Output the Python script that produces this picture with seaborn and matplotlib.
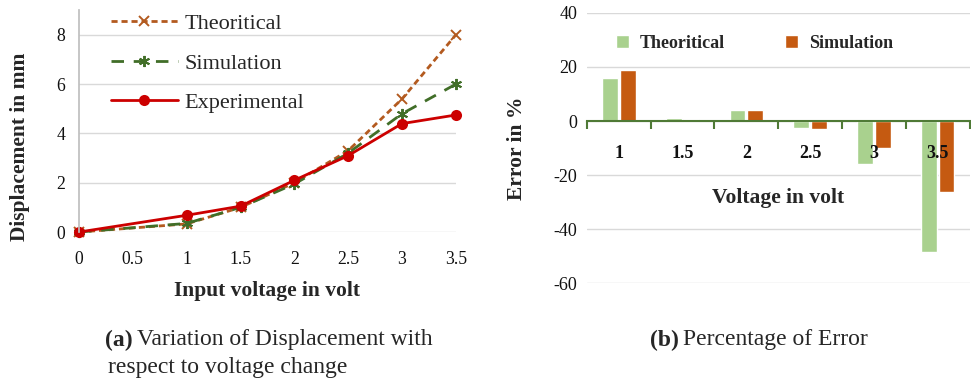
import numpy as np
import pandas as pd
import matplotlib
matplotlib.use("Agg")
import matplotlib.pyplot as plt
import seaborn as sns

# -----------------------------
# data
# -----------------------------
voltage = [0, 1, 1.5, 2, 2.5, 3, 3.5]
disp_theory = [0, 0.33, 1.0, 2.0, 3.3, 5.4, 8.0]
disp_sim = [0, 0.35, 1.0, 1.95, 3.2, 4.8, 6.0]
disp_exp = [0, 0.68, 1.05, 2.1, 3.1, 4.4, 4.75]

err_volts = ["1", "1.5", "2", "2.5", "3", "3.5"]
err_theory = [16.0, 1.0, 4.1, -2.5, -15.9, -48.5]
err_sim = [18.8, 0.6, 4.1, -2.8, -9.9, -26.3]

x_ticks = [0, 0.5, 1, 1.5, 2, 2.5, 3, 3.5]
x_tick_labels = ["0", "0.5", "1", "1.5", "2", "2.5", "3", "3.5"]

sns.set_theme(style="white")
plt.rcParams["font.family"] = ["Liberation Serif", "DejaVu Serif"]
plt.rcParams["axes.unicode_minus"] = False

fig = plt.figure(figsize=(9.71, 3.81), dpi=100)

# -----------------------------
# (a) displacement vs voltage
# -----------------------------
ax1 = fig.add_axes([0.0814, 0.391, 0.388, 0.582])

series = [
    ("Theoritical", disp_theory, "#b35a1f", "x", (2.2, 1.4), 7, 1.4),
    ("Simulation", disp_sim, "#416e28", (6, 2, 0), (4.5, 3.5), 8, 1.4),
    ("Experimental", disp_exp, "#cc0000", "o", None, 8, 0),
]
for name, vals, col, mk, dash, ms, mew in series:
    df = pd.DataFrame({"v": voltage, "d": vals})
    sns.lineplot(data=df, x="v", y="d", ax=ax1, color=col, marker=mk,
                 markersize=ms, markeredgewidth=mew, markeredgecolor=col,
                 linewidth=2.0, label=name, clip_on=False)
    if dash is not None:
        ax1.lines[-1].set_dashes(dash)

ax1.set_xlim(0, 3.5)
ax1.set_ylim(0, 9)
ax1.set_xticks(x_ticks)
ax1.set_xticklabels(x_tick_labels)
ax1.set_yticks([0, 2, 4, 6, 8])
ax1.grid(axis="y", color="#d9d9d9", linewidth=1)
ax1.set_axisbelow(True)
for s in ["top", "right", "bottom"]:
    ax1.spines[s].set_visible(False)
ax1.spines["left"].set_color("#bfbfbf")
ax1.tick_params(axis="both", length=0, labelsize=12.7, colors="#111111")
ax1.tick_params(axis="x", pad=14)
ax1.tick_params(axis="y", pad=10)
ax1.set_xlabel("Input voltage in volt", fontsize=15.5, fontweight="bold")
ax1.set_ylabel("Displacement in mm", fontsize=15.5, fontweight="bold")
ax1.xaxis.set_label_coords(0.5, -0.222)
ax1.yaxis.set_label_coords(-0.13, 0.383)
ax1.legend(loc="upper left", bbox_to_anchor=(0.085, 0.985), frameon=False,
           fontsize=16, handlelength=3.0, handletextpad=0.3, labelspacing=0.85,
           borderpad=0, borderaxespad=0)

# -----------------------------
# (b) percentage of error
# -----------------------------
ax2 = fig.add_axes([0.6045, 0.257, 0.394, 0.709])

err_df = pd.DataFrame({
    "Voltage": err_volts * 2,
    "Error": err_theory + err_sim,
    "Series": ["Theoritical"] * len(err_volts) + ["Simulation"] * len(err_volts),
})
sns.barplot(data=err_df, x="Voltage", y="Error", hue="Series", ax=ax2,
            order=err_volts, hue_order=["Theoritical", "Simulation"],
            palette={"Theoritical": "#a9d18e", "Simulation": "#c55a11"},
            width=0.55, gap=0.1, errorbar=None, saturation=1)

axis_col = "#4f7a36"
ax2.set_xlim(-0.5, 5.5)
ax2.set_ylim(-60, 40)
ax2.set_yticks([-60, -40, -20, 0, 20, 40])
ax2.grid(axis="y", color="#d9d9d9", linewidth=1)
ax2.set_axisbelow(True)
ax2.xaxis.set_zorder(5)
for s in ["top", "right", "left"]:
    ax2.spines[s].set_visible(False)
ax2.spines["bottom"].set_position(("data", 0))
ax2.spines["bottom"].set_color(axis_col)
ax2.spines["bottom"].set_linewidth(1.5)
ax2.spines["bottom"].set_zorder(5)
ax2.set_xticks(np.arange(-0.5, 6, 1), minor=True)
ax2.tick_params(axis="x", which="minor", length=6, width=1.5, color=axis_col,
                direction="out", bottom=True)
ax2.tick_params(axis="x", which="major", length=0, pad=17, labelsize=13,
                labelcolor="#111111")
for lab in ax2.get_xticklabels():
    lab.set_fontweight("bold")
ax2.tick_params(axis="y", length=0, pad=7, labelsize=13, colors="#111111")
ax2.set_xlabel("")
ax2.text(2.5, -28.5, "Voltage in volt", ha="center", va="center",
         fontsize=15.5, fontweight="bold")
ax2.set_ylabel("Error in %", fontsize=15.5, fontweight="bold")
ax2.yaxis.set_label_coords(-0.157, 0.5)
ax2.legend(loc="center left", bbox_to_anchor=(0.075, 0.887), ncol=2,
           frameon=False, prop={"size": 13, "weight": "bold"},
           handlelength=0.75, handleheight=0.75, handletextpad=0.6,
           columnspacing=3.3, borderpad=0, borderaxespad=0)

# -----------------------------
# captions
# -----------------------------
fig.text(105 / 971, 1 - 340 / 381, "(a)", fontsize=17, fontweight="bold", va="center")
fig.text(137 / 971, 1 - 340 / 381, "Variation of Displacement with", fontsize=17, va="center")
fig.text(108 / 971, 1 - 368 / 381, "respect to voltage change", fontsize=17, va="center")
fig.text(650 / 971, 1 - 340 / 381, "(b)", fontsize=17, fontweight="bold", va="center")
fig.text(683 / 971, 1 - 340 / 381, "Percentage of Error", fontsize=17, va="center")

fig.savefig("out.png", dpi=100)
